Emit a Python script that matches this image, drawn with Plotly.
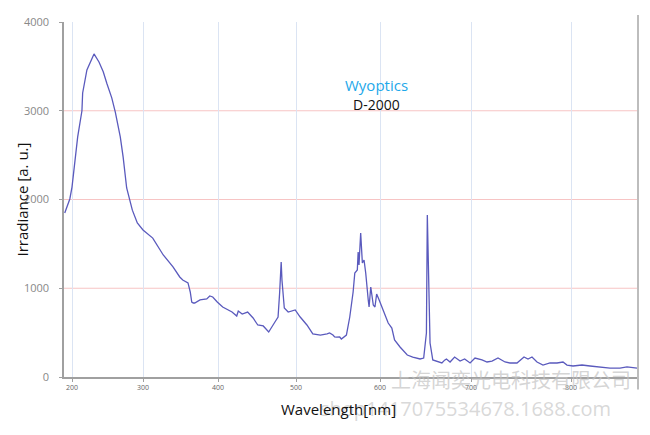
import numpy as np
import plotly.graph_objects as go

# Spectrum (wavelength in nm, irradiance in a.u.)
wavelength = [190, 197, 200, 204, 208, 214, 215, 221, 225, 231, 238, 244, 249, 256, 261, 268, 272, 277,
              285, 292, 300, 313, 327, 340, 349, 353, 360, 363, 365, 367, 369, 372, 376, 385, 389, 393,
              399, 406, 418, 424, 426, 431, 438, 445, 451, 458, 465, 473, 477, 479, 481, 482, 485, 490,
              499, 505, 513, 520, 529, 537, 540, 544, 546, 548, 552, 554, 560, 564, 568, 570, 573, 574,
              575, 577, 579, 581, 583, 586, 587, 589, 592, 594, 596, 599, 602, 605, 609, 613, 616, 622,
              630, 636, 644, 648, 651, 652, 653, 655, 658, 666, 668, 671, 673, 677, 682, 688, 693, 699,
              704, 711, 716, 721, 727, 734, 739, 746, 753, 757, 761, 766, 772, 779, 786, 792, 796, 802,
              811, 819, 829, 839, 849, 856, 866]
irradiance = [1848, 2006, 2140, 2445, 2705, 3000, 3200, 3460, 3540, 3640, 3550, 3440, 3310, 3145, 2985,
              2705, 2480, 2130, 1880, 1735, 1657, 1565, 1375, 1240, 1127, 1093, 1060, 958, 845, 834, 834,
              845, 868, 880, 913, 902, 845, 789, 732, 687, 744, 710, 732, 665, 586, 575, 507, 620, 676,
              947, 1296, 1093, 778, 732, 755, 676, 586, 485, 473, 485, 496, 473, 451, 450, 451, 428, 473,
              676, 958, 1172, 1206, 1409, 1262, 1623, 1285, 1318, 1172, 868, 789, 1014, 811, 789, 935,
              868, 789, 721, 608, 552, 417, 338, 248, 225, 203, 214, 496, 1826, 1240, 383, 192, 158, 158,
              190, 203, 169, 225, 180, 203, 158, 214, 192, 169, 180, 214, 169, 158, 158, 225, 203, 225,
              169, 135, 158, 158, 169, 135, 124, 135, 124, 113, 101, 101, 113, 101]

x_ticks = [200, 300, 400, 500, 600, 700, 800]
y_ticks = [0, 1000, 2000, 3000, 4000]
grid_y = [1000, 2000, 3000]

# Non-linear (detector-pixel) wavelength calibration of the x axis
SCALE_WL = [189, 200, 300, 400, 500, 600, 700, 800, 867]
SCALE_POS = [0, 8, 79, 154, 232, 316, 407, 507, 574]


def to_axis(w):
    return np.interp(np.asarray(w, dtype=float), SCALE_WL, SCALE_POS)


fig = go.Figure()
fig.add_trace(go.Scatter(x=to_axis(wavelength), y=irradiance, mode="lines",
                         line=dict(color="#5a5abd", width=1.3), showlegend=False,
                         hoverinfo="skip"))

FONT = "Open Sans, Noto Sans, sans-serif"

shapes = []
for g in grid_y:
    shapes.append(dict(type="line", xref="paper", x0=0, x1=1, yref="y", y0=g, y1=g,
                       line=dict(color="#f7c4c4", width=1.2), layer="below"))
shapes.append(dict(type="line", xref="paper", x0=1.0, x1=1.0, yref="paper", y0=-0.035, y1=1.02,
                   line=dict(color="#bdbdbd", width=2)))


def ann(text, x, y, size, color, family=FONT, angle=0):
    return dict(text=text, xref="paper", yref="paper", x=x, y=y, xanchor="center",
                yanchor="middle", showarrow=False, textangle=angle,
                font=dict(family=family, size=size, color=color))


annotations = [
    ann("上海闻奕光电科技有限公司", 0.779, -0.006, 20, "rgba(195,195,195,0.7)",
        family="Noto Sans CJK SC"),
    ann("shop1417075534678.1688.com", 0.70, -0.088, 20, "rgba(200,200,200,0.7)"),
    ann("Irradiance [a. u.]", -0.0732, 0.5, 15, "#111", angle=-90),
    ann("Wavelength[nm]", 0.479, -0.090, 15, "#111"),
    ann("Wyoptics", 0.5436, 0.8225, 15, "#1ea8ea"),
    ann("D-2000", 0.5436, 0.769, 14, "#111"),
]

fig.update_layout(
    width=650, height=435,
    margin=dict(l=64, r=12, t=22, b=58),
    paper_bgcolor="white", plot_bgcolor="white",
    xaxis=dict(range=[0, 574], tickvals=to_axis(x_ticks), ticktext=[str(t) for t in x_ticks],
               showgrid=True, gridcolor="#dbe4f3", gridwidth=1, zeroline=False,
               showline=True, linecolor="#a0a0a0", linewidth=1.5,
               ticks="outside", ticklen=3, tickcolor="#a0a0a0",
               tickfont=dict(family=FONT, size=7, color="#666")),
    yaxis=dict(range=[0, 4000], tickvals=y_ticks, showgrid=False, zeroline=False,
               showline=True, linecolor="#a0a0a0", linewidth=1.5,
               ticks="outside", ticklen=3, tickcolor="#a0a0a0", ticklabelstandoff=8,
               tickfont=dict(family=FONT, size=11, color="#888")),
    shapes=shapes,
    annotations=annotations,
)

fig.write_html("out.html")
